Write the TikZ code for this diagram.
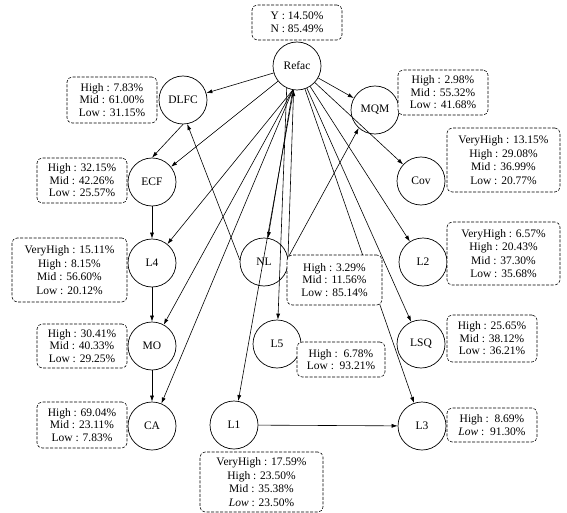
\documentclass[tikz,border=0pt]{standalone}
\usepackage{fontspec}
\setmainfont{Liberation Serif}
\usetikzlibrary{arrows.meta}
\tikzset{
  state/.style={circle, draw, line width=0.7pt, minimum size=48pt, inner sep=0pt, font=\fontsize{11.5}{13}\selectfont},
  info/.style={draw, dash pattern=on 3pt off 1.5pt, rounded corners=5pt, fill=white, line width=0.55pt, align=center, inner sep=0pt, font=\fontsize{11.5}{12.5}\selectfont},
  info4/.style={info, font=\fontsize{11.5}{13.5}\selectfont},
  edge/.style={-{Latex[length=6pt,width=4pt]}, line width=0.6pt},
}
\begin{document}
\begin{tikzpicture}[x=1pt,y=-1pt]
\useasboundingbox (0,0) rectangle (567,513);
% states
\node[state] (Refac) at (297,66) {Refac};
\node[state] (DLFC) at (183,100) {DLFC};
\node[state] (ECF) at (152,182) {ECF};
\node[state] (L4) at (152,263) {L4};
\node[state] (MO) at (152,346) {MO};
\node[state] (CA) at (152,426) {CA};
\node[state] (NL) at (264,262) {NL};
\node[state] (L5) at (277,344) {L5};
\node[state] (L1) at (234,425) {L1};
\node[state] (MQM) at (375,110) {MQM};
\node[state] (Cov) at (421,181) {Cov};
\node[state] (L2) at (423,262) {L2};
\node[state] (LSQ) at (421,344) {LSQ};
\node[state] (L3) at (422,426) {L3};
% edges
\draw[edge] (Refac) -- (DLFC);
\draw[edge] (Refac) -- (MQM);
\draw[edge] (Refac) -- (ECF);
\draw[edge] (Refac.260) -- (L4);
\draw[edge] (Refac.260) -- (MO);
\draw[edge] (Refac.260) -- (CA);
\draw[edge] (Refac.260) -- (NL);
\draw[edge] (Refac.262) -- (L1);
\draw[edge] (Refac.245) -- (L5);
\draw[edge] (Refac) -- (Cov);
\draw[edge] (Refac) -- (L2);
\draw[edge] (Refac) -- (LSQ);
\draw[edge] (Refac) -- (L3);
\draw[edge] (DLFC.south) -- (ECF.north);
\draw[edge] (NL.175) -- (DLFC.280);
\draw[edge] (NL.10) -- (MQM.228);
\draw[edge] (NL.10) -- (Refac.262);
\draw[edge] (ECF) -- (L4);
\draw[edge] (L4) -- (MO);
\draw[edge] (MO) -- (CA);
\draw[edge] (L1) -- (L3);
% info boxes
\node[info, minimum width=90pt, minimum height=35pt] (tYN) at (297,22.5) {Y : 14.50\%\\N : 85.49\%};
\node[info, minimum width=90pt, minimum height=46pt] (tDLFC) at (112,100) {High : 7.83\%\\Mid : 61.00\%\\Low : 31.15\%};
\node[info, minimum width=90pt, minimum height=45pt] (tECF) at (82,180.5) {High : 32.15\%\\Mid : 42.26\%\\Low : 25.57\%};
\node[info4, minimum width=115pt, minimum height=64pt] (tL4) at (69.5,270) {VeryHigh : 15.11\%\\High : 8.15\%\\Mid : 56.60\%\\Low : 20.12\%};
\node[info, minimum width=90pt, minimum height=44pt] (tMO) at (82,346) {High : 30.41\%\\Mid : 40.33\%\\Low : 29.25\%};
\node[info, minimum width=90pt, minimum height=46pt] (tCA) at (82,425) {High : 69.04\%\\Mid : 23.11\%\\Low : 7.83\%};
\node[info4, minimum width=123pt, minimum height=60pt] (tL1) at (261.5,482) {VeryHigh : 17.59\%\\High : 23.50\%\\Mid : 35.38\%\\\textit{Low} : 23.50\%};
\node[info, minimum width=95pt, minimum height=50pt] (tNL) at (334.5,280) {High : 3.29\%\\Mid : 11.56\%\\Low : 85.14\%};
\node[info, minimum width=88pt, minimum height=35pt] (tL5) at (341,359.5) {High :\enspace 6.78\%\\Low :\enspace 93.21\%};
\node[info, minimum width=90pt, minimum height=45pt] (tMQM) at (443,92.5) {High : 2.98\%\\Mid : 55.32\%\\Low : 41.68\%};
\node[info4, minimum width=113pt, minimum height=64pt] (tCov) at (503.5,160) {VeryHigh : 13.15\%\\High : 29.08\%\\Mid : 36.99\%\\Low : 20.77\%};
\node[info4, minimum width=113pt, minimum height=63pt] (tL2) at (503.5,253.5) {VeryHigh : 6.57\%\\High : 20.43\%\\Mid : 37.30\%\\Low : 35.68\%};
\node[info, minimum width=90pt, minimum height=47pt] (tLSQ) at (492,338.5) {High : 25.65\%\\Mid : 38.12\%\\Low : 36.21\%};
\node[info, minimum width=90pt, minimum height=34pt] (tL3) at (492,425) {High :\enspace 8.69\%\\\textit{Low} :\enspace 91.30\%};
\end{tikzpicture}
\end{document}
